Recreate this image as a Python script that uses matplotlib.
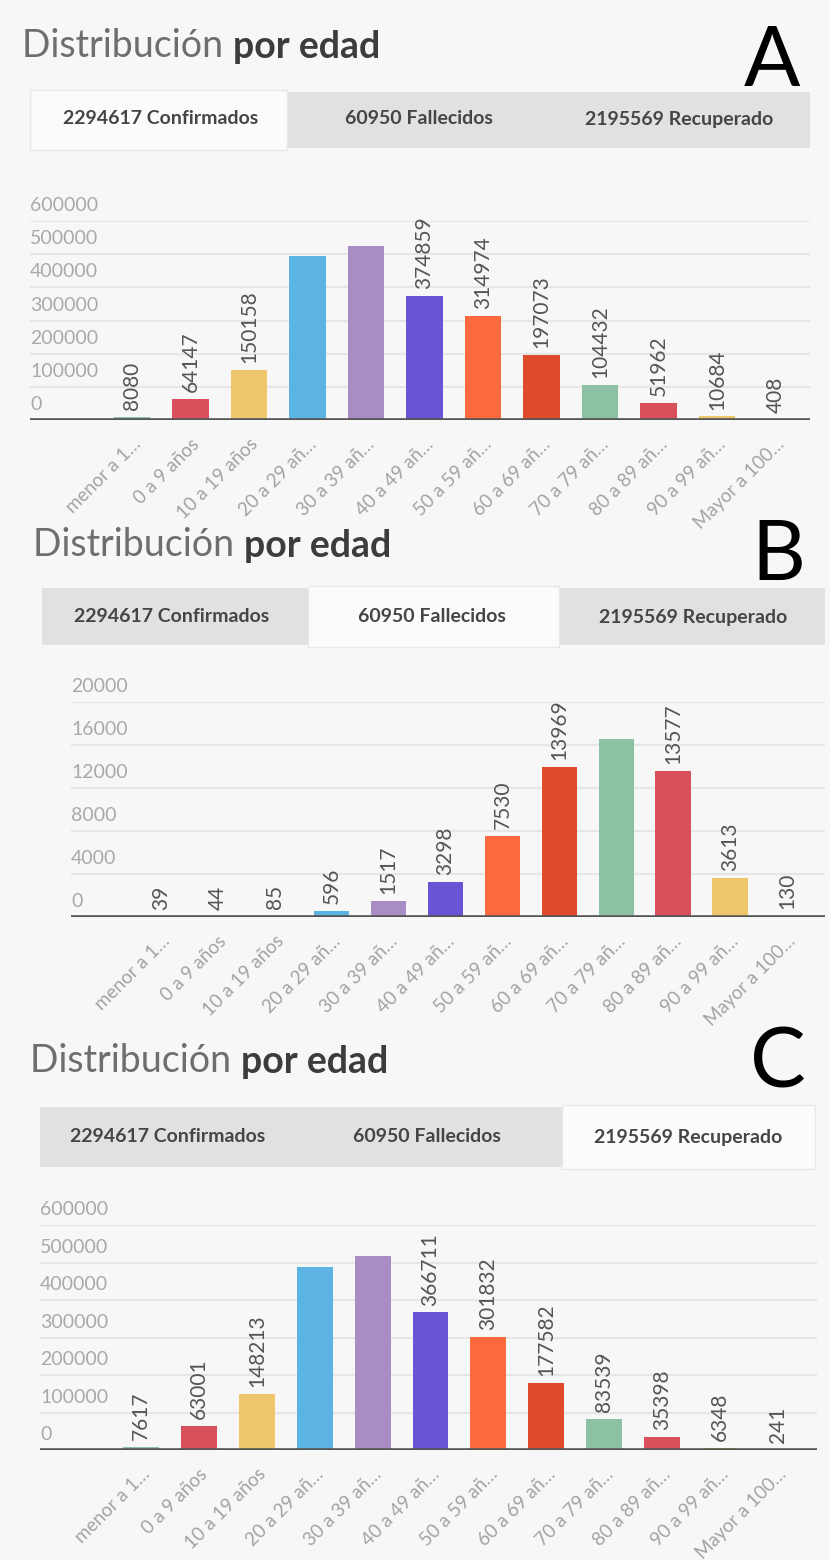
import numpy as np
import matplotlib.pyplot as plt
from matplotlib.patches import Rectangle
import matplotlib.transforms as mtransforms

plt.rcParams['font.family'] = ['Lato', 'DejaVu Sans']

W, H = 830, 1560

# grupos de edad (etiquetas tal como aparecen, recortadas)
edades = ['menor a 1…', '0 a 9 años', '10 a 19 años', '20 a 29 añ…', '30 a 39 añ…',
          '40 a 49 añ…', '50 a 59 añ…', '60 a 69 añ…', '70 a 79 añ…', '80 a 89 añ…',
          '90 a 99 añ…', 'Mayor a 100…']

# valores por grupo (las barras sin etiqueta se estiman de su altura)
confirmados = [8080, 64147, 150158, 494000, 523840, 374859, 314974, 197073, 104432, 51962, 10684, 408]
fallecidos = [39, 44, 85, 596, 1517, 3298, 7530, 13969, 16552, 13577, 3613, 130]
recuperados = [7617, 63001, 148213, 489000, 516087, 366711, 301832, 177582, 83539, 35398, 6348, 241]

# barras cuya etiqueta no se ve en la captura
ocultos_conf = [3, 4]
ocultos_fall = [8]
ocultos_rec = [3, 4]

pestanas = ['2294617 Confirmados', '60950 Fallecidos', '2195569 Recuperado']
letras = ['A', 'B', 'C']

paleta = ['#8cc2a3', '#d7505b', '#efc66b', '#5cb4e2', '#a88dc5', '#6a54d5', '#fb6a3c', '#df4b2b']

# posiciones en pixeles de cada bloque
paneles = [
    dict(datos=confirmados, ocultos=ocultos_conf, ymax=600000, paso=100000, activa=0,
         titulo=(22, 57), letra=(772, 86), barra=(30, 810, 92, 148), act=(30, 287),
         tabx=(161, 419, 679), taby=119, ejes=(30, 810, 221, 420), primero=132, sep=58.5),
    dict(datos=fallecidos, ocultos=ocultos_fall, ymax=20000, paso=4000, activa=1,
         titulo=(33, 556), letra=(778, 580), barra=(42, 825, 588, 645), act=(308, 559),
         tabx=(172, 432, 693), taby=617, ejes=(71, 825, 702, 917), primero=161, sep=56.9),
    dict(datos=recuperados, ocultos=ocultos_rec, ymax=600000, paso=100000, activa=2,
         titulo=(30, 1072), letra=(778, 1088), barra=(40, 815, 1107, 1167), act=(562, 815),
         tabx=(168, 427, 688), taby=1137, ejes=(40, 817, 1225, 1450), primero=141, sep=57.9),
]

fig = plt.figure(figsize=(W / 100, H / 100), dpi=100, facecolor='#f7f7f7')

# capa en pixeles para titulos y pestañas
ov = fig.add_axes([0, 0, 1, 1], zorder=-1)
ov.set_xlim(0, W)
ov.set_ylim(H, 0)
ov.axis('off')

desplaza = mtransforms.ScaledTranslation(3 / 100, 0, fig.dpi_scale_trans)

for k, p in enumerate(paneles):
    # titulo
    tx, ty = p['titulo']
    t1 = ov.text(tx, ty, 'Distribución ', fontsize=27, color='#6e6e6e', va='baseline')
    ov.annotate('por edad', xy=(1, 0), xycoords=t1, va='bottom', ha='left',
                fontsize=27, fontweight='bold', color='#3c3c3c')
    lx, ly = p['letra']
    ov.text(lx, ly, letras[k], fontsize=60, color='black', ha='center', va='baseline')

    # pestañas
    bx0, bx1, by0, by1 = p['barra']
    ov.add_patch(Rectangle((bx0, by0), bx1 - bx0, by1 - by0, facecolor='#e1e1e1',
                           edgecolor='none'))
    ax0, ax1 = p['act']
    ov.add_patch(Rectangle((ax0, by0 - 2), ax1 - ax0, by1 - by0 + 4, facecolor='#fbfbfb',
                           edgecolor='#e8e8e8', lw=1))
    for j, nombre in enumerate(pestanas):
        ov.text(p['tabx'][j], p['taby'], nombre, fontsize=14, fontweight='bold',
                color='#454545', ha='center', va='center')

    # grafico de barras
    x0, x1, ytop, ybase = p['ejes']
    ax = fig.add_axes([x0 / W, 1 - ybase / H, (x1 - x0) / W, (ybase - ytop) / H])
    ax.set_facecolor('none')
    xl = -(p['primero'] - x0) / p['sep']
    xr = xl + (x1 - x0) / p['sep']
    ax.set_xlim(xl, xr)
    ax.set_ylim(0, p['ymax'])

    colores = [paleta[i % len(paleta)] for i in range(len(edades))]
    ax.bar(range(len(edades)), p['datos'], width=0.62, color=colores, zorder=2)

    ticks = np.arange(0, p['ymax'] + 1, p['paso'])
    ax.set_yticks(ticks)
    ax.set_yticklabels([])
    ax.yaxis.grid(True, color='#e6e6e6', lw=1.6)
    ax.set_axisbelow(True)
    for v in ticks:
        ax.annotate(str(int(v)), xy=(xl, v), xytext=(0, 5), textcoords='offset points',
                    ha='left', va='bottom', fontsize=14, color='#a9a9a9')
    ax.axhline(0, color='#555555', lw=2.6, zorder=3)

    for i, v in enumerate(p['datos']):
        if i in p['ocultos']:
            continue
        ax.annotate(str(v), xy=(i, v), xytext=(0, 5), textcoords='offset points',
                    rotation=90, ha='center', va='bottom', fontsize=15, color='#555555',
                    annotation_clip=False)

    ax.set_xticks(range(len(edades)))
    ax.set_xticklabels(edades, rotation=45, ha='right', rotation_mode='anchor',
                       fontsize=13.5, color='#a3a3a3')
    for lbl in ax.get_xticklabels():
        lbl.set_transform(lbl.get_transform() + desplaza)
    ax.tick_params(axis='both', length=0)
    ax.tick_params(axis='x', pad=11)
    for s in ax.spines.values():
        s.set_visible(False)

fig.savefig('out.png', dpi=100, facecolor=fig.get_facecolor())
